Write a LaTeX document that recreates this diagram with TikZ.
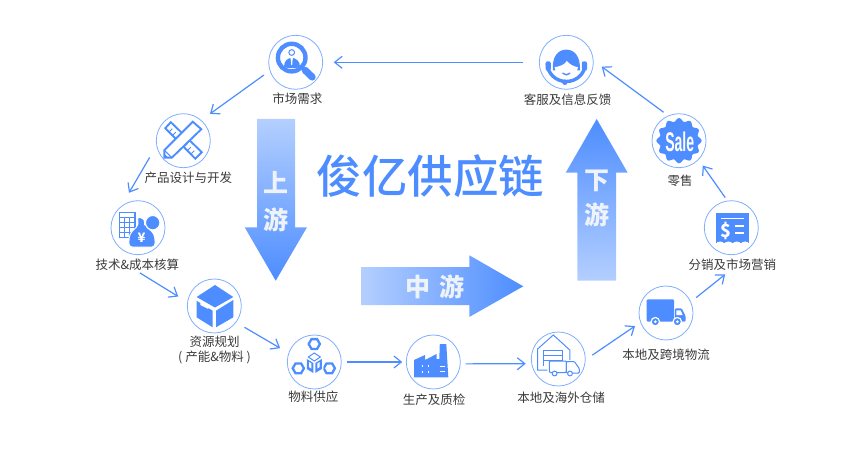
\documentclass[tikz,border=0pt]{standalone}
\usepackage{fontspec}
\setmainfont{Noto Sans CJK SC}
\newfontfamily\salefont{Liberation Sans}
\newfontfamily\titlefont{Noto Sans CJK SC Medium}
\usetikzlibrary{arrows.meta,shadings}
\definecolor{chainblue}{HTML}{4D8DFF}
\definecolor{chainlight}{HTML}{B4CFFF}
\definecolor{chainring}{HTML}{7FADFF}
\definecolor{chainword}{HTML}{EEF2F9}
\definecolor{chaintext}{HTML}{3A3A3A}
\tikzset{
  station/.style={circle,draw=chainring,line width=0.8pt,minimum size=54pt,inner sep=0pt,outer sep=0pt},
  stationtext/.style={font=\fontsize{12.5}{15}\selectfont,text=chaintext,inner sep=1pt,align=center},
  flow/.style={draw=chainblue,line width=1.2pt,-{Straight Barb[length=7.5pt,width=12pt,line width=1.2pt]}},
  bigword/.style={font=\fontsize{25}{28}\selectfont\bfseries,text=chainword,inner sep=0pt},
  iconline/.style={draw=chainblue,line width=1.9pt},
  iconthin/.style={draw=chainblue,line width=1pt},
  iconfill/.style={fill=chainblue}
}
\def\iconsearch{
  \draw[chainblue,line width=4.4pt] (-4,-4.7) circle (13.8);
  \draw[chainblue,line width=7pt,line cap=round] (9.5,8) -- (16.5,14.8);
  \fill[iconfill] (-4,-9.8) circle (3.4);
  \fill[white] (-4,-9.8) circle (2.2);
  \fill[iconfill] (-11.7,4.3) .. controls (-11.7,-1.5) and (-8,-3.7) .. (-5.5,-4.3) -- (-4,0) -- (-2.5,-4.3) .. controls (0,-3.7) and (4.3,-1.5) .. (4.3,4.3) .. controls (1,6.5) and (-9,6.5) .. (-11.7,4.3) -- cycle;
  \fill[white] (-4.8,-3) -- (-3.2,-3) -- (-3.4,2) -- (-4,3) -- (-4.6,2) -- cycle;
}
\def\icondesign{
  \draw[iconline,line join=miter] (-18,-12.5) -- (-12.5,-18.5) -- (18.5,11.5) -- (12,18) -- cycle;
  \foreach \i in {0,1,2} {
    \draw[iconthin] ({-11+3.5*\i},{-12+3.5*\i}) -- ({-14+3.5*\i},{-9+3.5*\i});
    \draw[iconthin] ({4+3.5*\i},{3+3.5*\i}) -- ({1+3.5*\i},{6+3.5*\i});
  }
  \draw[iconline,fill=white] (-19,17) -- (-19,9.5) -- (9.5,-19) -- (18,-11.5) -- (-11.5,17) -- cycle;
  \draw[iconthin] (-19,9.5) -- (-11.5,17);
  \fill[iconfill] (-19,17) -- (-19,13) -- (-15,17) -- cycle;
}
\def\iconcost{
  \draw[chainblue,line width=1.4pt] (-18.7,-15) rectangle (-3,9.7);
  \draw[iconthin] (-18.7,-10) -- (-3,-10);
  \foreach \y in {-5,0,5} {\draw[iconthin] (-18.7,\y) -- (-3,\y);}
  \foreach \x in {-13.5,-8.5} {\draw[iconthin] (\x,-10) -- (\x,9.7);}
  \fill[iconfill,draw=white,line width=1pt,rounded corners=4pt] (-1.5,-11.5) -- (8,-8) -- (6,-3) -- (16.5,6) -- (17.5,19.5) -- (-9.5,19.5) -- (-8.5,6) -- (1,-3) -- cycle;
  \fill[iconfill,draw=white,line width=1pt] (14.7,-5) circle (7.2);
  \node[inner sep=0pt,text=white,font=\fontsize{13}{13}\selectfont\bfseries] (yen) at (3.7,9.7) {¥};
}
\def\iconbox{
  \fill[iconfill] (0.7,-21) -- (19,-9) -- (0.7,1.5) -- (-17.7,-9) -- cycle;
  \fill[iconfill] (-17.7,-5.3) -- (-1.7,4.7) -- (-1.7,21.3) -- (-17.7,11.3) -- cycle;
  \fill[iconfill] (1.7,4.7) -- (19,-6) -- (19,11.3) -- (1.7,21.3) -- cycle;
  \fill[white] (-14,-3.5) -- (-6,0.5) -- (-6,3) -- (-14,-1) -- cycle;
}
\def\iconsupply{
  \foreach \a/\b in {0/-18,-16/6.3,15/6.3} {
    \draw[chainblue,line width=2.3pt] (\a+5.6,\b) -- (\a+2.8,\b-4.9) -- (\a-2.8,\b-4.9) -- (\a-5.6,\b) -- (\a-2.8,\b+4.9) -- (\a+2.8,\b+4.9) -- cycle;
  }
  \fill[white] (0,-10) -- (9,-4) -- (9,9) -- (0,14) -- (-9,9) -- (-9,-4) -- cycle;
  \draw[iconthin] (0,-9) -- (6,-5) -- (0,-1) -- (-6,-5) -- cycle;
  \fill[iconfill] (-7.5,-3) -- (-1,1) -- (-1,11) -- (-7.5,7) -- cycle;
  \fill[iconfill] (7.5,-3) -- (1,1) -- (1,11) -- (7.5,7) -- cycle;
  \fill[white] (-5.3,0) -- (-3,1.4) -- (-3,6.5) -- (-5.3,5.1) -- cycle;
  \fill[white] (5.3,0) -- (3,1.4) -- (3,6.5) -- (5.3,5.1) -- cycle;
}
\def\iconfactory{
  \fill[iconfill] (-19.3,15.3) -- (-19.3,-2) -- (-8.3,-7) -- (-8.3,-2) -- (3.3,-8) -- (3.3,-3) -- (6,-3) -- (6.5,-18) -- (13,-18) -- (15,15.3) -- cycle;
  \foreach \x in {-11.5,-5.5} {
    \fill[white] (\x,2.5) rectangle +(1.6,2.2);
    \fill[white] (\x,8.5) rectangle +(1.6,2.2);
  }
  \fill[white] (6.5,3.5) rectangle (11.5,5);
  \fill[white] (6.5,8.5) rectangle (11.5,10);
}
\def\iconstore{
  \draw[iconthin] (-11,11) -- (-20.7,11) -- (-20.7,-10) -- (-5,-24) -- (11.5,-9) -- (11.5,1);
  \draw[iconthin] (-14.5,-9) rectangle (4.5,1);
  \draw[iconthin] (-14.5,-4) -- (4.5,-4);
  \draw[iconthin] (-14.5,1) -- (-14.5,7);
  \draw[iconthin,fill=white,rounded corners=1pt] (-9,2) rectangle (8,13.5);
  \draw[iconthin,fill=white,rounded corners=1pt] (8,2.5) -- (16,2.5) -- (21,9.5) -- (21,14) -- (8,14) -- cycle;
  \draw[iconthin,fill=white] (-3.7,14.5) circle (2.4);
  \draw[iconthin,fill=white] (11.7,14.5) circle (2.4);
}
\def\icontruck{
  \fill[iconfill,rounded corners=1.2pt] (-19.3,-13.7) rectangle (8,8.7);
  \fill[iconfill,rounded corners=1.2pt] (8.8,-4.7) -- (15.7,-4.7) -- (19.7,3.2) -- (19.7,8.7) -- (8.8,8.7) -- cycle;
  \fill[white] (10.3,-2.7) -- (14.5,-2.7) -- (16.7,2) -- (10.3,2) -- cycle;
  \foreach \x in {-10.7,11.3} {\fill[iconfill,draw=white,line width=1.2pt] (\x,8.7) circle (4.2);}
  \foreach \x in {-10.7,11.3} {\fill[white] (\x,8.7) circle (1.5);}
}
\def\iconreceipt{
  \fill[iconfill] (-15.3,-15) -- (18,-15) -- (18,15.5) -- (-15.3,15.5) -- cycle;
  \foreach \x in {-11.15,-2.85,5.45,13.75} {\fill[white] (\x,16.5) ellipse (4.1 and 2.7);}
  \draw[white,line width=1.6pt] (-10.3,-9.3) -- (13,-9.3);
  \draw[white,line width=2.1pt] (3.7,-2) -- (13,-2);
  \draw[white,line width=2.1pt] (3.7,5.7) -- (13,5.7);
  \node[inner sep=0pt,text=white,font=\fontsize{18}{18}\selectfont\bfseries] (dollar) at (-5.3,3.5) {\$};
}
\def\iconsale{
  \fill[iconfill] plot[domain=0:360,samples=145,smooth] (\x:{21+1.6*cos(12*\x)}) -- cycle;
  \node[inner sep=0pt,text=white,xscale=.52,font=\fontsize{27}{27}\selectfont\salefont\bfseries] (saleword) at (0.7,1.5) {Sale};
}
\def\iconservice{
  \draw[chainblue,line width=3.4pt] (-19,1) arc (180:0:19 and 18.2);
  \fill[iconfill,rounded corners=2pt] (-20.7,-1) rectangle (-15.5,8.5);
  \fill[iconfill,rounded corners=2pt] (15.5,-1) rectangle (20.7,8.5);
  \fill[iconfill] (-13.5,8) .. controls (-14.5,-6) and (-8,-12.7) .. (0,-12.7) .. controls (8,-12.7) and (14.5,-6) .. (13.5,8) -- cycle;
  \fill[white] (-11.7,5) .. controls (-6,4) and (-1,2) .. (0.5,-1.5) .. controls (3,2) and (7,4) .. (11.7,5) .. controls (11,12) and (5,16.5) .. (0,16.5) .. controls (-5,16.5) and (-11,12) .. (-11.7,5) -- cycle;
  \draw[chainblue,line width=1.4pt,line cap=round] (-3.5,11) .. controls (-1.5,13) and (1.5,13) .. (3.5,11);
  \draw[chainblue,line width=1.3pt] (17,8) .. controls (15,15) and (8,20) .. (-1,20);
  \fill[iconfill] (-1.5,20) circle (2.7);
}
\begin{document}
\begin{tikzpicture}[x=1pt,y=-1pt]
    \useasboundingbox (0,0) rectangle (848,454);

    % the three big arrows
    \shade[top color=chainlight,bottom color=chainblue] (257,119) -- (295,119) -- (295,227.3) -- (307,227.3) -- (275.7,280.7) -- (244.7,227.3) -- (257,227.3) -- cycle;
    \shade[top color=chainblue,bottom color=chainlight] (596.7,119) -- (627.7,172.7) -- (616,172.7) -- (616,280.7) -- (577.3,280.7) -- (577.3,172.7) -- (565.7,172.7) -- cycle;
    \shade[left color=chainlight,right color=chainblue] (361,267) -- (469.3,267) -- (469.3,255.3) -- (523.3,286.3) -- (469.3,317) -- (469.3,305) -- (361,305) -- cycle;
    \node[bigword] (upa) at (275.7,183) {上};
    \node[bigword] (upb) at (275.7,220) {游};
    \node[bigword] (downa) at (596.7,180.7) {下};
    \node[bigword] (downb) at (596.7,215) {游};
    \node[bigword] (mida) at (417.7,287) {中};
    \node[bigword] (midb) at (452.3,287) {游};

    \node[font=\fontsize{45.5}{48}\selectfont\titlefont,text=chainblue,inner sep=0pt] (title) at (430.5,176) {俊亿供应链};

    % stations, clockwise from the top right
    \node[station] (service) at (566.3,62.3) {};
    \node[station] (market) at (295.7,62.3) {};
    \node[station] (design) at (183.3,140.7) {};
    \node[station] (cost) at (138,227.7) {};
    \node[station] (plan) at (214.3,306) {};
    \node[station] (supply) at (314.3,362) {};
    \node[station] (make) at (433.3,362) {};
    \node[station] (store) at (558.3,359) {};
    \node[station] (ship) at (666,313) {};
    \node[station] (sell) at (731.3,227.7) {};
    \node[station] (retail) at (679,140.7) {};

    \node[stationtext] (servicetext) at (567.7,99.3) {客服及信息反馈};
    \node[stationtext] (markettext) at (297.3,99) {市场需求};
    \node[stationtext] (designtext) at (188.3,177.7) {产品设计与开发};
    \node[stationtext] (costtext) at (137.3,264.3) {技术\&成本核算};
    \node[stationtext] (plantext) at (214.5,350) {资源规划\\( 产能\&物料 )};
    \node[stationtext] (supplytext) at (313.3,396.7) {物料供应};
    \node[stationtext] (maketext) at (434,399.7) {生产及质检};
    \node[stationtext] (storetext) at (561,397.3) {本地及海外仓储};
    \node[stationtext] (shiptext) at (666,355) {本地及跨境物流};
    \node[stationtext] (selltext) at (732.3,264.3) {分销及市场营销};
    \node[stationtext] (retailtext) at (680,180.3) {零售};

    \begin{scope}[shift={(service)}] \iconservice \end{scope}
    \begin{scope}[shift={(market)}] \iconsearch \end{scope}
    \begin{scope}[shift={(design)}] \icondesign \end{scope}
    \begin{scope}[shift={(cost)}] \iconcost \end{scope}
    \begin{scope}[shift={(plan)}] \iconbox \end{scope}
    \begin{scope}[shift={(supply)}] \iconsupply \end{scope}
    \begin{scope}[shift={(make)}] \iconfactory \end{scope}
    \begin{scope}[shift={(store)}] \iconstore \end{scope}
    \begin{scope}[shift={(ship)}] \icontruck \end{scope}
    \begin{scope}[shift={(sell)}] \iconreceipt \end{scope}
    \begin{scope}[shift={(retail)}] \iconsale \end{scope}

    % connectors, gaps set by shorten
    \draw[flow,shorten <=16pt,shorten >=11pt] (service.west) -- (market.east);
    \draw[flow,shorten <=7.5pt,shorten >=11pt] (market.198) -- (design.49);
    \draw[flow,shorten <=14pt,shorten >=16.5pt] (design.190) -- (cost.130);
    \draw[flow,shorten <=3pt,shorten >=11pt] (costtext.south) -- (plan.172);
    \draw[flow,shorten <=10pt,shorten >=10pt] (plan.-37) -- (supply.161);
    \draw[flow,shorten <=6pt,shorten >=4pt] (supply.east) -- (make.west);
    \draw[flow,shorten <=5.4pt,shorten >=6pt] (make.-4.2) -- (store.190.6);
    \draw[flow,shorten <=8.5pt,shorten >=6.8pt] (store.-2) -- (ship.200);
    \draw[flow,shorten <=7pt,shorten >=5pt] (ship.24) -- (selltext.-115);
    \draw[flow,shorten <=4pt,shorten >=7.5pt] (sell.98.5) -- (retail.-44);
    \draw[flow,shorten <=6pt,shorten >=10.5pt] (retail.113.5) -- (service.4);
\end{tikzpicture}
\end{document}
